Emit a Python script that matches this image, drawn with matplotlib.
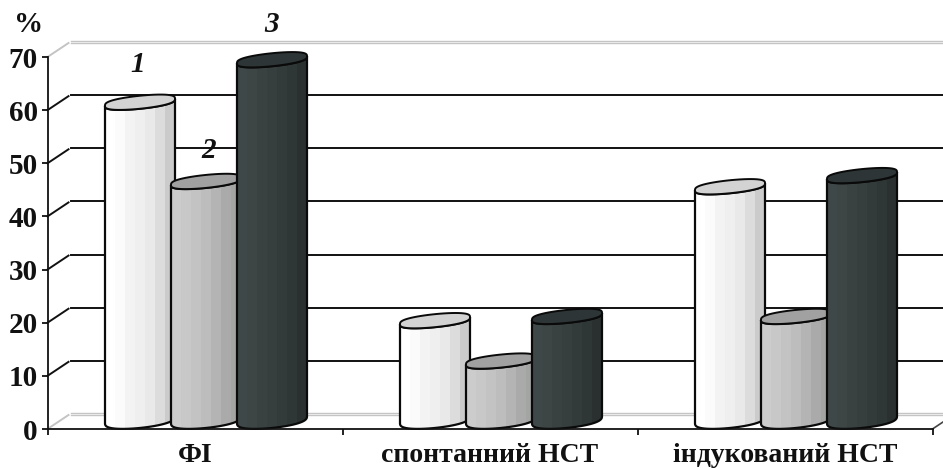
import numpy as np
import matplotlib
matplotlib.use("Agg")
import matplotlib.pyplot as plt
from matplotlib.patches import Polygon

categories = ["ФІ", "спонтанний НСТ", "індукований НСТ"]
series_1 = [59.7, 18.6, 43.8]
series_2 = [44.8, 11.0, 19.4]
series_3 = [67.7, 19.4, 45.9]
value_ticks = [0, 10, 20, 30, 40, 50, 60, 70]
series_names = ["1", "2", "3"]

strips_1 = ["#ffffff", "#fbfbfb", "#f2f3f2", "#eeefee", "#e8e9e8", "#dcdcdc", "#cbcbcb"]
strips_2 = ["#cccccc", "#c8c8c8", "#c3c3c3", "#bcbdbc", "#b3b4b3", "#a9aaa9", "#a3a5a3"]
strips_3 = ["#3f4848", "#3d4545", "#394141", "#363e3e", "#323a3a", "#2e3636", "#2a3030"]
top_colors = ["#d2d3d2", "#a0a1a0", "#2d3536"]

W, H = 943, 468
L, R, B, T = 47.5, 932.5, 429.0, 57.0
fig = plt.figure(figsize=(W / 100, H / 100), dpi=100)
ax = fig.add_axes([L / W, 1 - B / H, (R - L) / W, (B - T) / H])
ax.set_xlim(-0.5, 2.5)
ax.set_ylim(0, 70)
ax.patch.set_alpha(0)

serif = "Liberation Serif"
PX = 3.0 / (R - L)
PY = 70.0 / (B - T)

DX, DY = 23 * PX, 15 * PY
x_back_start = -0.5 + DX
x_back_end = -0.5 + (943 - L) * PX

for v in value_ticks:
    y = v + DY
    if v in (0, 70):
        for off in (0, 2.0 * PY):
            ax.plot([x_back_start, x_back_end], [y - off + PY, y - off + PY], color="#c4c4c4", lw=1.0,
                    clip_on=False, zorder=1)
        ax.plot([-0.5, x_back_start - 2 * PX], [v, y - PY], color="#c4c4c4", lw=1.4, clip_on=False, zorder=1)
    else:
        ax.plot([x_back_start, x_back_end], [y, y], color="#111111", lw=1.4, clip_on=False, zorder=1)
        ax.plot([-0.5, x_back_start - 2 * PX], [v, y - PY], color="#111111", lw=1.4, clip_on=False, zorder=1)
ax.plot([2.5, x_back_end], [0, 7 * PY], color="#444444", lw=1.2, clip_on=False, zorder=1)

GROUP_SHIFT = 11 * PX
STEP = 66 * PX
WIDTH = 70 * PX
SLANT = 3.5 * PY
ELL_B = 6.5 * PY
LEFT_LIFT = 6.0 * PY


def cylinder(xc, value, strips, top, z):
    a = WIDTH / 2
    t = np.linspace(0, np.pi, 80)
    u = np.cos(t)
    bulge = np.sin(t) ** 0.7
    y_top_c = value + LEFT_LIFT + SLANT
    y_bot_c = LEFT_LIFT + SLANT
    xs_upper = xc + a * u
    upper = y_top_c + SLANT * u + ELL_B * bulge
    xs = xc - a * u
    bottom = np.maximum(y_bot_c - SLANT * u - ELL_B * 1.3 * bulge, 0)
    front = y_top_c - SLANT * u - ELL_B * bulge
    body = np.vstack([np.c_[xs, bottom], np.c_[xs[::-1], front[::-1]]])
    clip = Polygon(body, closed=True, fc="none", ec="none", transform=ax.transData, clip_on=False)
    ax.add_patch(clip)
    n = len(strips)
    w = WIDTH / n
    bars = ax.bar([xc - a + w * (i + 0.5) for i in range(n)], [y_top_c + ELL_B] * n,
                  width=w * 1.02, color=strips, linewidth=0, zorder=z)
    for b in bars:
        b.set_clip_box(None)
        b.set_clip_path(clip)
    body_edge = Polygon(body, closed=True, fc="none", ec="#0a0a0a", lw=1.6, zorder=z + 0.1)
    ax.add_patch(body_edge)
    body_edge.set_clip_on(False)
    top_pts = np.vstack([np.c_[xs, front], np.c_[xs_upper, upper]])
    top_patch = Polygon(top_pts, closed=True, fc=top, ec="#0a0a0a", lw=1.4, zorder=z + 0.2)
    ax.add_patch(top_patch)
    top_patch.set_clip_on(False)


z = 3
for i in range(len(categories)):
    xc = i + GROUP_SHIFT
    cylinder(xc - STEP, series_1[i], strips_1, top_colors[0], z)
    cylinder(xc, series_2[i], strips_2, top_colors[1], z + 1)
    cylinder(xc + STEP, series_3[i], strips_3, top_colors[2], z + 2)
    z += 3

ax.set_ylim(0, 70)
for s in ("top", "right"):
    ax.spines[s].set_visible(False)
for s in ("left", "bottom"):
    ax.spines[s].set_linewidth(1.3)
    ax.spines[s].set_color("#111111")
    ax.spines[s].set_zorder(30)

ax.set_yticks(value_ticks)
ax.set_yticklabels([str(v) for v in value_ticks], fontsize=21, fontweight="bold", family=serif, color="#111111")
ax.tick_params(axis="y", length=4, width=1.3, pad=3, color="#111111")
ax.set_xticks([-0.5, 0.5, 1.5, 2.5])
ax.set_xticklabels([])
ax.tick_params(axis="x", which="major", length=4, width=1.3, color="#111111")
ax.set_xticks([0, 1, 2], minor=True)
ax.set_xticklabels(categories, minor=True, fontsize=20, fontweight="bold", family=serif, color="#111111")
ax.tick_params(axis="x", which="minor", length=0, pad=10)

fig.text(29 / W, 1 - 24 / H, "%", fontsize=21, fontweight="bold", family=serif, ha="center", va="center", color="#111111")
for name, (px, py) in zip(series_names, [(138, 64), (209, 150), (272, 24)]):
    fig.text(px / W, 1 - py / H, name, fontsize=21, fontweight="bold", style="italic", family=serif,
             ha="center", va="center", color="#111111")

fig.savefig("out.png", dpi=100)
